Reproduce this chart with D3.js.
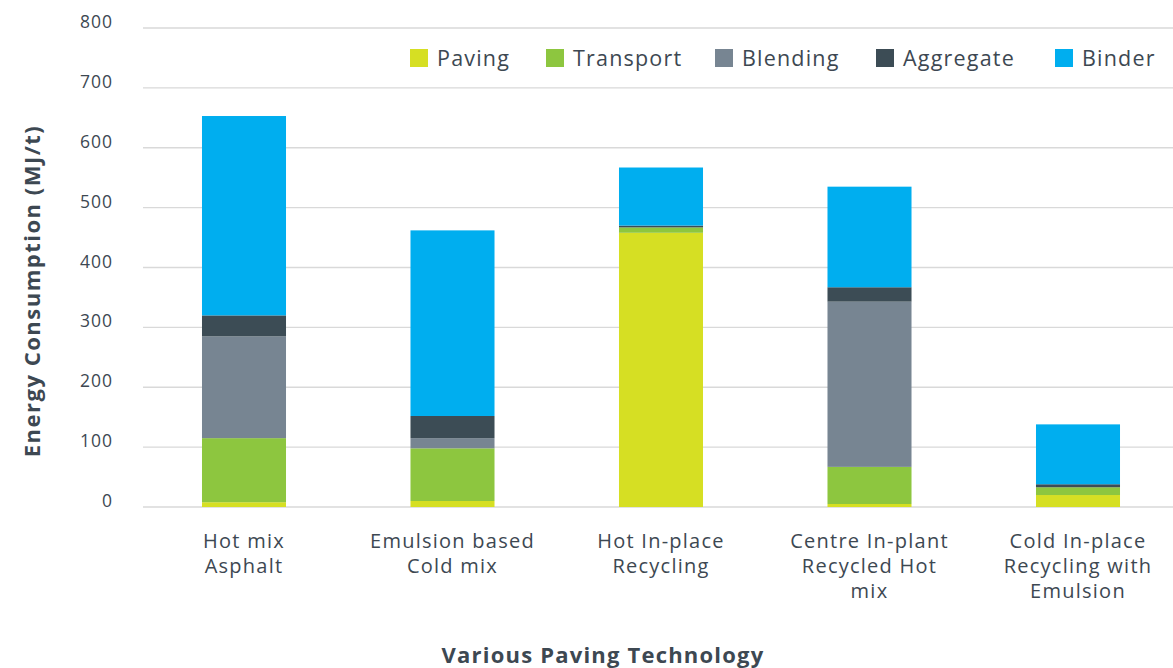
<!DOCTYPE html>
<html>
<head>
<meta charset="utf-8">
<script src="https://cdn.jsdelivr.net/npm/d3@7"></script>
<style>
  html, body { margin: 0; padding: 0; background: #ffffff; }
  svg { display: block; font-family: "Open Sans", "Noto Sans", sans-serif; }
</style>
</head>
<body>
<svg id="chart" width="1173" height="668"></svg>
<script>
// Energy consumption (MJ/t) per paving technology, stacked by process stage
const categories = [
  ["Hot mix", "Asphalt"],
  ["Emulsion based", "Cold mix"],
  ["Hot In-place", "Recycling"],
  ["Centre In-plant", "Recycled Hot", "mix"],
  ["Cold In-place", "Recycling with", "Emulsion"]
];
const seriesNames = ["Paving", "Transport", "Blending", "Aggregate", "Binder"];
const paving    = [8, 10, 458, 5, 20];
const transport = [107, 88, 9, 62, 13];
const blending  = [170, 17, 0, 276, 0];
const aggregate = [35, 37, 3, 24, 5];
const binder    = [333, 310, 97, 168, 100];
const yTicks = [0, 100, 200, 300, 400, 500, 600, 700, 800];
const colors = ["#d6df23", "#8dc63f", "#778592", "#3c4c55", "#00aeef"];

const seriesValues = [paving, transport, blending, aggregate, binder];
const table = categories.map((c, i) => {
  const row = { key: i };
  seriesNames.forEach((s, j) => { row[s] = seriesValues[j][i]; });
  return row;
});

const svg = d3.select("#chart");
const textColor = "#3d4852";

const x = d3.scaleBand()
  .domain(table.map(d => d.key))
  .range([139.75, 1182.25])
  .paddingInner(0.597)
  .paddingOuter(0.2985);

const y = d3.scaleLinear().domain([0, 800]).range([507, 28]);

// Horizontal gridlines
svg.append("g")
  .selectAll("line")
  .data(yTicks)
  .join("line")
  .attr("x1", 143).attr("x2", 1173)
  .attr("y1", d => y(d)).attr("y2", d => y(d))
  .attr("stroke", "#d9d9d9").attr("stroke-width", 1.3);

// Y tick labels
const yAxis = svg.append("g")
  .attr("transform", "translate(113,-6)")
  .call(d3.axisLeft(y).tickValues(yTicks).tickSize(0).tickPadding(0));
yAxis.select(".domain").remove();
yAxis.selectAll("text")
  .attr("fill", textColor)
  .style("font-size", "17.5px")
  .style("letter-spacing", "1px")
  .style("font-family", "'Open Sans', sans-serif");

// Stacked bars
const stack = d3.stack().keys(seriesNames)(table);
svg.append("g")
  .selectAll("g")
  .data(stack)
  .join("g")
  .attr("fill", (d, i) => colors[i])
  .selectAll("rect")
  .data(d => d)
  .join("rect")
  .attr("x", d => x(d.data.key))
  .attr("width", x.bandwidth())
  .attr("y", d => y(d[1]))
  .attr("height", d => Math.max(0, y(d[0]) - y(d[1])));

// Category labels, one text element per line
const catLines = table.flatMap((d, i) =>
  categories[i].map((line, k) => ({ key: d.key, line, k })));
svg.append("g")
  .selectAll("text")
  .data(catLines)
  .join("text")
  .attr("x", d => x(d.key) + x.bandwidth() / 2)
  .attr("y", d => 548 + d.k * 25)
  .attr("text-anchor", "middle")
  .attr("fill", textColor)
  .style("font-size", "20px")
  .style("letter-spacing", "1.25px")
  .text(d => d.line);

// Axis titles
svg.append("text")
  .attr("x", 603).attr("y", 663)
  .attr("text-anchor", "middle")
  .attr("fill", textColor)
  .style("font-size", "22px").style("font-weight", "700")
  .style("letter-spacing", "1.2px")
  .text("Various Paving Technology");

svg.append("text")
  .attr("transform", "translate(40,291) rotate(-90)")
  .attr("text-anchor", "middle")
  .attr("fill", textColor)
  .style("font-size", "22px").style("font-weight", "700")
  .style("letter-spacing", "1.5px")
  .text("Energy Consumption (MJ/t)");

// Legend
const legendX = [410, 546, 715, 876, 1055];
const legend = svg.append("g")
  .selectAll("g")
  .data(seriesNames)
  .join("g")
  .attr("transform", (d, i) => `translate(${legendX[i]},49)`);
legend.append("rect")
  .attr("width", 18).attr("height", 18)
  .attr("fill", (d, i) => colors[i]);
legend.append("text")
  .attr("x", 27).attr("y", 9)
  .attr("dy", "0.35em")
  .attr("fill", textColor)
  .style("font-size", "21.5px")
  .style("letter-spacing", "1.2px")
  .text(d => d);
</script>
</body>
</html>
